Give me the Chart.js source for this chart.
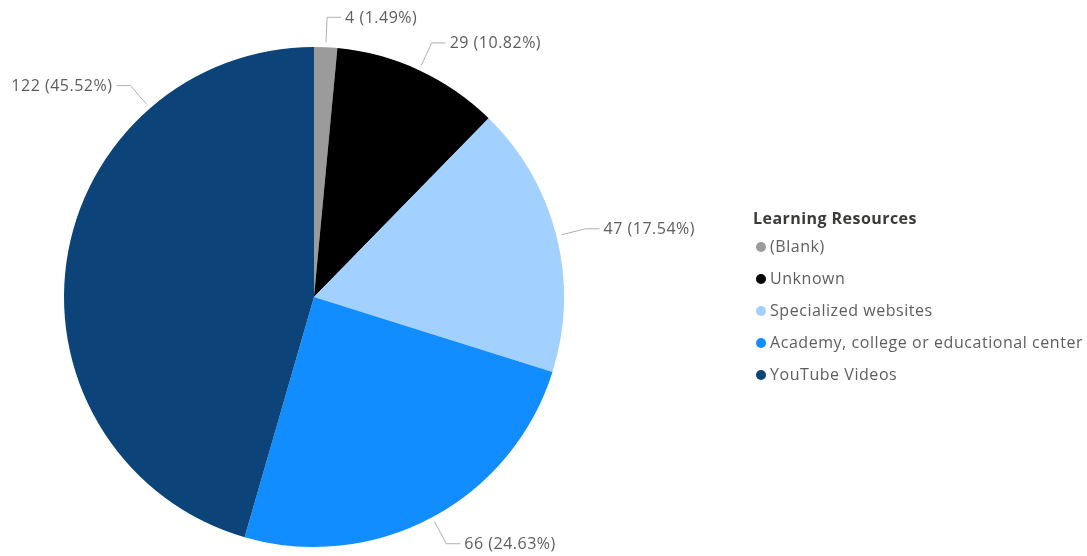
<!DOCTYPE html>
<html><head><meta charset="utf-8">
<script src="https://cdn.jsdelivr.net/npm/chart.js@4/dist/chart.umd.min.js"></script>
<style>
html,body{margin:0;padding:0;background:#fff;}
#wrap{position:relative;width:1087px;height:556px;}
#c{position:absolute;left:0;top:0;}
#legend{position:absolute;left:753px;top:206px;font-family:"Open Sans",sans-serif;}
#legend .t{font-weight:bold;font-size:16px;letter-spacing:0.45px;color:#3b3a39;height:24px;line-height:24px;}
#legend .i{font-size:16px;letter-spacing:0.55px;color:#605e5c;height:32px;line-height:32px;white-space:nowrap;}
#legend .m{display:inline-block;width:10px;height:10px;border-radius:50%;margin:0 4px 0 3px;vertical-align:0px;}
</style></head>
<body><div id="wrap"><canvas id="c" width="1087" height="556"></canvas><div id="legend"></div></div>
<script>
const legendTitle = "Learning Resources";
const categories = ["(Blank)", "Unknown", "Specialized websites", "Academy, college or educational center", "YouTube Videos"];
const counts = [4, 29, 47, 66, 122];
const sliceColors = ["#9b9b9b", "#000000", "#a3d1ff", "#118dff", "#0c4479"];

const total = counts.reduce((a,b)=>a+b,0);

// legend
const lg = document.getElementById('legend');
const t = document.createElement('div'); t.className='t'; t.textContent = legendTitle; lg.appendChild(t);
categories.forEach((c,i)=>{
  const d=document.createElement('div'); d.className='i';
  const m=document.createElement('span'); m.className='m'; m.style.background=sliceColors[i];
  d.appendChild(m); d.appendChild(document.createTextNode(c)); lg.appendChild(d);
});

const labelPlugin = {
  id:'outLabels',
  afterDatasetsDraw(chart, args, opts){
    const ctx = chart.ctx;
    const meta = chart.getDatasetMeta(0);
    ctx.save();
    ctx.font = '16px "Open Sans", sans-serif';
    ctx.letterSpacing = '0.5px';
    ctx.textBaseline = 'middle';
    meta.data.forEach((arc,i)=>{
      const p = arc.getProps(['x','y','startAngle','endAngle','outerRadius'], true);
      const frac = (opts.anchor && opts.anchor[i] != null) ? opts.anchor[i] : 0.5;
      const a = p.startAngle + frac*(p.endAngle-p.startAngle);
      const r0 = p.outerRadius + 5, r1 = p.outerRadius + 30;
      const x0 = p.x + Math.cos(a)*r0, y0 = p.y + Math.sin(a)*r0;
      const x1 = p.x + Math.cos(a)*r1, y1 = p.y + Math.sin(a)*r1;
      const right = Math.cos(a) >= -0.0001;
      const x2 = x1 + (right ? 14 : -14);
      ctx.strokeStyle = '#b3b0ad'; ctx.lineWidth = 1;
      ctx.beginPath(); ctx.moveTo(x0,y0); ctx.lineTo(x1,y1); ctx.lineTo(x2,y1); ctx.stroke();
      const v = chart.data.datasets[0].data[i];
      const txt = v + ' (' + (v/total*100).toFixed(2) + '%)';
      ctx.fillStyle = '#605e5c';
      ctx.textAlign = right ? 'left' : 'right';
      ctx.fillText(txt, x2 + (right ? 4 : -4), y1 + 1);
    });
    ctx.restore();
  }
};

new Chart(document.getElementById('c'), {
  type:'pie',
  data:{ labels:categories, datasets:[{ data:counts, backgroundColor:sliceColors, borderWidth:0 }]},
  options:{
    responsive:false, animation:false,
    layout:{ padding:{ left:64, right:523, top:47, bottom:9 } },
    plugins:{ legend:{display:false}, tooltip:{enabled:false},
      outLabels:{ anchor:[0.5,0.5,0.5,0.5,0.75] } }
  },
  plugins:[labelPlugin]
});
</script></body></html>
